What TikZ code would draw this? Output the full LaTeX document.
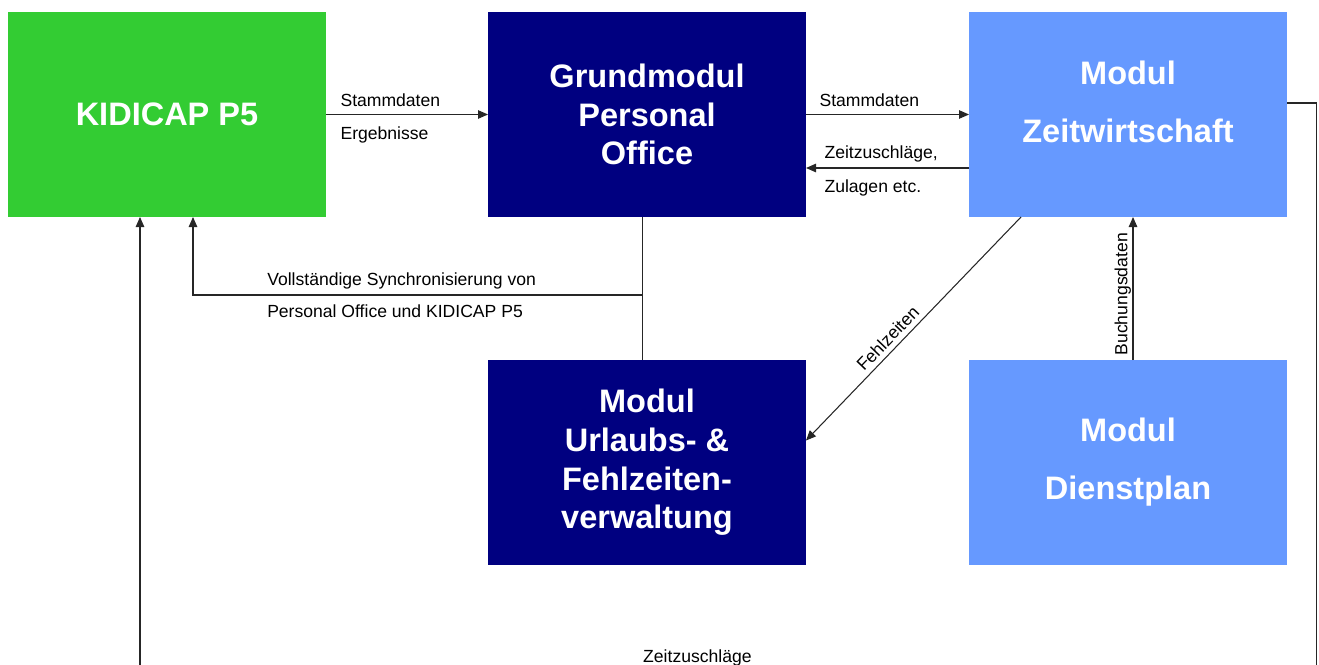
\documentclass[tikz,border=0pt]{standalone}
\usepackage{fontspec}
\setmainfont{Liberation Sans}
\usetikzlibrary{positioning, arrows.meta}
\definecolor{kgreen}{HTML}{33CC33}
\definecolor{knavy}{HTML}{000080}
\definecolor{kblue}{HTML}{6699FF}

\begin{document}
\begin{tikzpicture}[x=0.2mm,y=-0.2mm,
	box/.style={rectangle,minimum width=6.36cm,minimum height=4.1cm,outer sep=0pt,
		inner sep=2pt,align=center,text=white,font=\fontsize{18.5}{22}\selectfont\bfseries},
	flow/.style={-{Triangle[length=2mm,width=1.7mm]},line width=0.6pt,black!85},
	lbl/.style={font=\fontsize{10}{12}\selectfont,inner sep=0pt,text=black}]
	\useasboundingbox (0,0) rectangle (1319,665);
	\clip (0,0) rectangle (1319,665);
	\node[box,fill=kgreen] (kidicap) at (167,114.5) {KIDICAP P5};
	\node[box,fill=knavy,right=3.24cm of kidicap] (grund) {Grundmodul\\Personal\\Office};
	\node[box,fill=kblue,right=3.26cm of grund] (zeit) {Modul\\[11pt]Zeitwirtschaft\\[-8pt]};
	\node[box,fill=knavy,below=2.86cm of grund] (urlaub) {Modul\\Urlaubs- \&\\Fehlzeiten-\\verwaltung};
	\node[box,fill=kblue,below=2.86cm of zeit] (dienst) {Modul\\[11pt]Dienstplan};
	\draw[flow] (kidicap) -- (grund)
		node[lbl,at start,anchor=base west,xshift=2.8mm,yshift=1.5mm] (kg1) {Stammdaten}
		node[lbl,at start,anchor=north west,xshift=2.8mm,yshift=-2.4mm] (kg2) {Ergebnisse};
	\draw[flow] (grund) -- (zeit)
		node[lbl,at start,anchor=base west,xshift=2.6mm,yshift=1.55mm] (gz1) {Stammdaten};
	\draw[flow] ([yshift=-1.07cm]zeit.west) -- ([yshift=-1.07cm]grund.east)
		node[lbl,at end,anchor=base west,xshift=3.6mm,yshift=1.8mm] (zg1) {Zeitzuschläge,}
		node[lbl,at end,anchor=north west,xshift=3.6mm,yshift=-2.2mm] (zg2) {Zulagen etc.};
	\draw[line width=0.6pt,black!85] ([xshift=-0.9mm]grund.south) -- ([xshift=-0.9mm]urlaub.north);
	\coordinate (sync) at ([xshift=-0.9mm,yshift=-1.56cm]grund.south);
	\draw[flow] (sync) -| ([xshift=0.52cm]kidicap.south)
		node[lbl,pos=0.418,anchor=base west,yshift=2mm] (sy1) {Vollständige Synchronisierung von}
		node[lbl,pos=0.418,anchor=north west,yshift=-1.8mm] (sy2) {Personal Office und KIDICAP P5};
	\draw[flow] ([xshift=-2.14cm]zeit.south) -- ([yshift=0.44cm]urlaub.east)
		node[lbl,pos=0.58,sloped,above=1mm] (fz) {Fehlzeiten};
	\draw[flow] ([xshift=1mm]dienst.north) -- ([xshift=1mm]zeit.south)
		node[lbl,pos=0.46,sloped,above=0.3mm] (bd) {Buchungsdaten};
	\draw[flow] ([yshift=2.3mm]zeit.east) -- ++(29,0) -- ++(0,572) -| ([xshift=-0.54cm]kidicap.south)
		node[lbl,pos=0.263,anchor=base,yshift=2.6mm] (zz) {Zeitzuschläge};
\end{tikzpicture}
\end{document}
